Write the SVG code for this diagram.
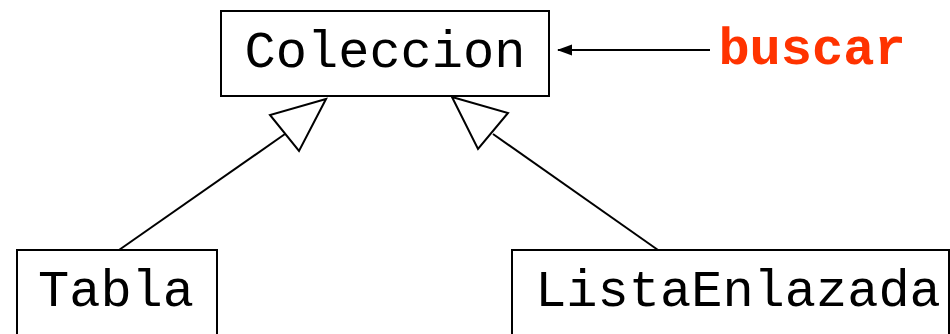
<svg xmlns="http://www.w3.org/2000/svg" width="950" height="334" viewBox="0 0 950 334">
  <style>
    .box { fill: #ffffff; stroke: #000000; stroke-width: 2; }
    .label { font-family: "Liberation Mono", "Courier New", monospace; font-size: 52px; fill: #000000; text-anchor: middle; }
    .msg { font-family: "Liberation Mono", "Courier New", monospace; font-size: 52px; font-weight: bold; fill: #ff3300; text-anchor: middle; }
    .edge { fill: none; stroke: #000000; stroke-width: 2; }
    .gen { fill: #ffffff; stroke: #000000; stroke-width: 2; stroke-linejoin: miter; }
  </style>
  <defs>
    <marker id="arrow" markerWidth="15" markerHeight="12" refX="14" refY="6" orient="auto" markerUnits="userSpaceOnUse">
      <path d="M0,0.5 L15,6 L0,11.5 Z" fill="#000000"/>
    </marker>
  </defs>
  <rect width="950" height="334" fill="#ffffff"/>

  <g id="connectors">
    <!-- generalization: Tabla -> Coleccion -->
    <line class="edge" x1="119" y1="250" x2="285" y2="134"/>
    <polygon class="gen" points="326,99 270,115 299,151"/>
    <!-- generalization: ListaEnlazada -> Coleccion -->
    <line class="edge" x1="658" y1="250" x2="493" y2="134"/>
    <polygon class="gen" points="452,97 508,113 478,149"/>
    <!-- message into Coleccion -->
    <line class="edge" x1="710" y1="50" x2="558" y2="50" marker-end="url(#arrow)"/>
  </g>

  <g id="coleccion">
    <rect class="box" x="221" y="11" width="328" height="85"/>
    <text class="label" x="385" y="67">Coleccion</text>
  </g>

  <g id="tabla">
    <rect class="box" x="17" y="250" width="200" height="100"/>
    <text class="label" x="116" y="306">Tabla</text>
  </g>

  <g id="listaEnlazada">
    <rect class="box" x="512" y="250" width="437" height="100"/>
    <text class="label" x="738" y="306">ListaEnlazada</text>
  </g>

  <g id="buscar">
    <text class="msg" x="812" y="64">buscar</text>
  </g>
</svg>
